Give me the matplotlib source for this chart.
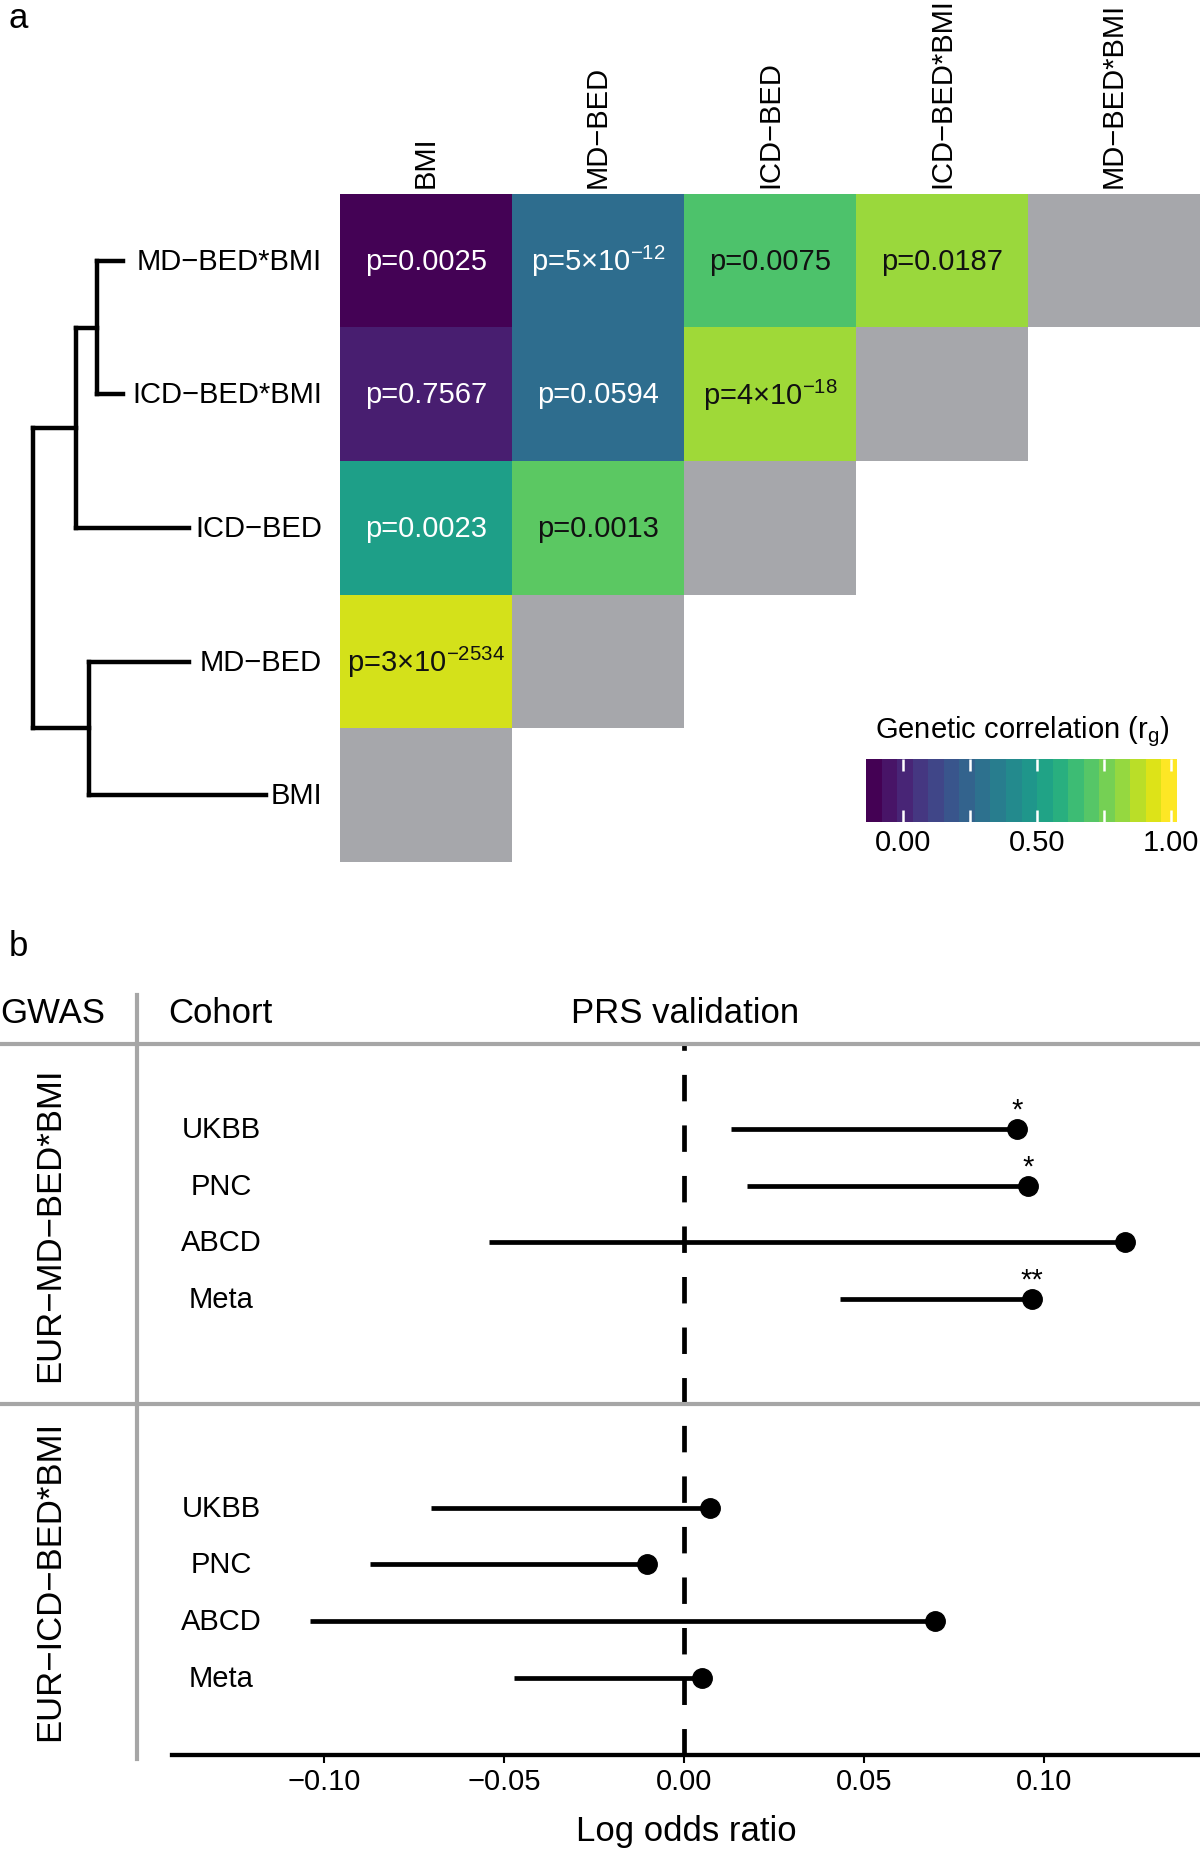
import matplotlib
matplotlib.use("Agg")
import matplotlib.pyplot as plt
import numpy as np
from matplotlib.colors import Normalize, ListedColormap
from matplotlib.lines import Line2D
from matplotlib.transforms import blended_transform_factory
import matplotlib.cm as cm

plt.rcParams["font.family"] = ["Liberation Sans", "DejaVu Sans"]
plt.rcParams["mathtext.default"] = "regular"

# ---- panel a: genetic correlations ----
row_traits = ["MD−BED*BMI", "ICD−BED*BMI", "ICD−BED", "MD−BED", "BMI"]
col_traits = ["BMI", "MD−BED", "ICD−BED", "ICD−BED*BMI", "MD−BED*BMI"]

rg_md_bed_bmi = [-0.13, 0.28, 0.70, 0.85]
rg_icd_bed_bmi = [-0.04, 0.28, 0.86]
rg_icd_bed = [0.52, 0.73]
rg_md_bed = [0.95]

p_md_bed_bmi = ["p=0.0025", "p=5×10$^{-12}$", "p=0.0075", "p=0.0187"]
p_icd_bed_bmi = ["p=0.7567", "p=0.0594", "p=4×10$^{-18}$"]
p_icd_bed = ["p=0.0023", "p=0.0013"]
p_md_bed = ["p=3×10$^{-2534}$"]

# dendrogram: leaf tip heights (row order) and merges (left, right, height)
tip_height = [0.69, 0.69, 0.46, 0.46, 0.194]
merges = [(0, 1, 0.778), (5, 2, 0.851), (3, 4, 0.806), (6, 7, 1.0)]

# ---- panel b: PRS validation ----
cohorts = ["UKBB", "PNC", "ABCD", "Meta"]
gwas = ["EUR−MD−BED*BMI", "EUR−ICD−BED*BMI"]
md_est = [0.0926, 0.0956, 0.1226, 0.0967]
md_lo = [0.013, 0.0176, -0.0542, 0.0435]
md_sig = ["*", "*", "", "**"]
icd_est = [0.0071, -0.0104, 0.0697, 0.005]
icd_lo = [-0.0703, -0.0874, -0.1041, -0.0472]
icd_sig = ["", "", "", ""]
x_ticks = [-0.10, -0.05, 0.00, 0.05, 0.10]
x_ticklabels = ["−0.10", "−0.05", "0.00", "0.05", "0.10"]

W, H = 1200, 1856
fig = plt.figure(figsize=(W / 100, H / 100), dpi=100)


def box(x0, y0, x1, y1):
    return [x0 / W, 1 - y1 / H, (x1 - x0) / W, (y1 - y0) / H]


norm = Normalize(vmin=-0.137, vmax=1.024)
gray = "#a6a7ab"
fs = 21
fs_big = 25

# heatmap
ax = fig.add_axes(box(340, 195, 1200, 863))
n = len(row_traits)
M = np.full((n, n), np.nan)
P = [["" for _ in range(n)] for _ in range(n)]
for i, (vals, ps) in enumerate(zip([rg_md_bed_bmi, rg_icd_bed_bmi, rg_icd_bed, rg_md_bed],
                                   [p_md_bed_bmi, p_icd_bed_bmi, p_icd_bed, p_md_bed])):
    for j, (v, p) in enumerate(zip(vals, ps)):
        M[i, j] = v
        P[i][j] = p
cmap = plt.get_cmap("viridis").copy()
cmap.set_bad((1, 1, 1, 0))
ax.imshow(np.ma.masked_invalid(M), cmap=cmap, norm=norm, aspect="auto")
diag = np.ma.masked_array(np.ones((n, n)), mask=~(np.add.outer(np.arange(n), np.arange(n)) == n - 1))
gcm = ListedColormap([gray])
gcm.set_bad((1, 1, 1, 0))
ax.imshow(diag, cmap=gcm, aspect="auto")
for i in range(n):
    for j in range(n):
        if P[i][j]:
            c = "white" if M[i, j] < 0.6 else "#111111"
            ax.text(j, i, P[i][j], ha="center", va="center", color=c, fontsize=fs)
ax.set_xlim(-0.5, n - 0.5)
ax.set_ylim(n - 0.5, -0.5)
ax.xaxis.tick_top()
ax.set_xticks(range(n))
ax.set_xticklabels(col_traits, rotation=90, fontsize=fs)
ax.set_yticks([])
ax.tick_params(axis="x", length=0, pad=5)
for s in ax.spines.values():
    s.set_visible(False)

# dendrogram
axd = fig.add_axes(box(0, 195, 340, 863))
ypos = list(range(n))
hts = list(tip_height)
for a, b, h in merges:
    axd.plot([h, h], [ypos[a], ypos[b]], color="black", lw=3.2, solid_capstyle="projecting")
    for c in (a, b):
        axd.plot([hts[c], h], [ypos[c], ypos[c]], color="black", lw=3.2, solid_capstyle="projecting")
    ypos.append((ypos[a] + ypos[b]) / 2)
    hts.append(h)
for i, t in enumerate(row_traits):
    axd.text(0, i, t, ha="right", va="center", fontsize=fs)
axd.set_xlim(1.114, -0.062)
axd.set_ylim(n - 0.5, -0.5)
axd.axis("off")

# colorbar
cax = fig.add_axes(box(866, 760, 1177, 823))
sm = cm.ScalarMappable(norm=norm, cmap=plt.get_cmap("viridis", 20))
cb = fig.colorbar(sm, cax=cax, orientation="horizontal", ticks=[0, 0.25, 0.5, 0.75, 1.0])
cb.set_ticklabels(["0.00", "", "0.50", "", "1.00"])
cb.outline.set_visible(False)
cax.tick_params(direction="in", top=True, bottom=True, color="white", length=8.5,
                width=1.8, labelsize=fs, pad=4)
cax.text(0.03, 1.45, "Genetic correlation (r$_{g}$)", transform=cax.transAxes,
         fontsize=fs, va="center", ha="left")

fig.text(9 / W, 1 - 18 / H, "a", fontsize=fs_big, va="center", ha="left")
fig.text(9 / W, 1 - 947 / H, "b", fontsize=fs_big, va="center", ha="left")

# panel b header and grid lines
fig.text(0, 1 - 1014 / H, "GWAS", fontsize=fs_big, va="center", ha="left")
fig.text(168 / W, 1 - 1014 / H, "Cohort", fontsize=fs_big, va="center", ha="left")
fig.text(685 / W, 1 - 1014 / H, "PRS validation", fontsize=fs_big, va="center", ha="center")
lc = "#a6a6a6"
for yy in (1045, 1405):
    fig.add_artist(Line2D([0, 1], [1 - yy / H, 1 - yy / H], transform=fig.transFigure, color=lc, lw=3))
fig.add_artist(Line2D([137 / W, 137 / W], [1 - 996 / H, 1 - 1760 / H], transform=fig.transFigure, color=lc, lw=3))

ax1 = fig.add_axes(box(172, 1045, 1200, 1405))
ax2 = fig.add_axes(box(172, 1405, 1200, 1756))
panels = [(ax1, md_est, md_lo, md_sig, (5.84, -0.49)),
          (ax2, icd_est, icd_lo, icd_sig, (5.36, -0.83))]
for k, (a, est, lo, sig, yl) in enumerate(panels):
    y = np.arange(1, len(cohorts) + 1)
    a.axvline(0, color="black", lw=3.4, ls=(0, (5.6, 5.1)))
    a.hlines(y, lo, est, color="black", lw=3.4)
    a.plot(est, y, "o", color="black", ms=14)
    for yi, e, s in zip(y, est, sig):
        if s:
            a.text(e, yi - 0.2, s, ha="center", va="baseline", fontsize=fs)
    tr = blended_transform_factory(fig.transFigure, a.transData)
    for yi, c in zip(y, cohorts):
        a.text(221 / W, yi, c, transform=tr, ha="center", va="center", fontsize=fs)
    tr2 = blended_transform_factory(fig.transFigure, a.transAxes)
    a.text(50 / W, 0.5, gwas[k], transform=tr2, rotation=90, ha="center", va="center", fontsize=fs_big)
    a.set_xlim(-0.1424, 0.1435)
    a.set_ylim(*yl)
    a.set_yticks([])
    for s in a.spines.values():
        s.set_visible(False)
ax1.set_xticks([])
ax2.spines["bottom"].set_visible(True)
ax2.spines["bottom"].set_linewidth(3.1)
ax2.set_xticks(x_ticks)
ax2.set_xticklabels(x_ticklabels)
ax2.tick_params(axis="x", length=5.5, width=1.5, labelsize=fs, pad=3)
ax2.set_xlabel("Log odds ratio", fontsize=fs_big, labelpad=14)

fig.savefig("out.png", dpi=100)
